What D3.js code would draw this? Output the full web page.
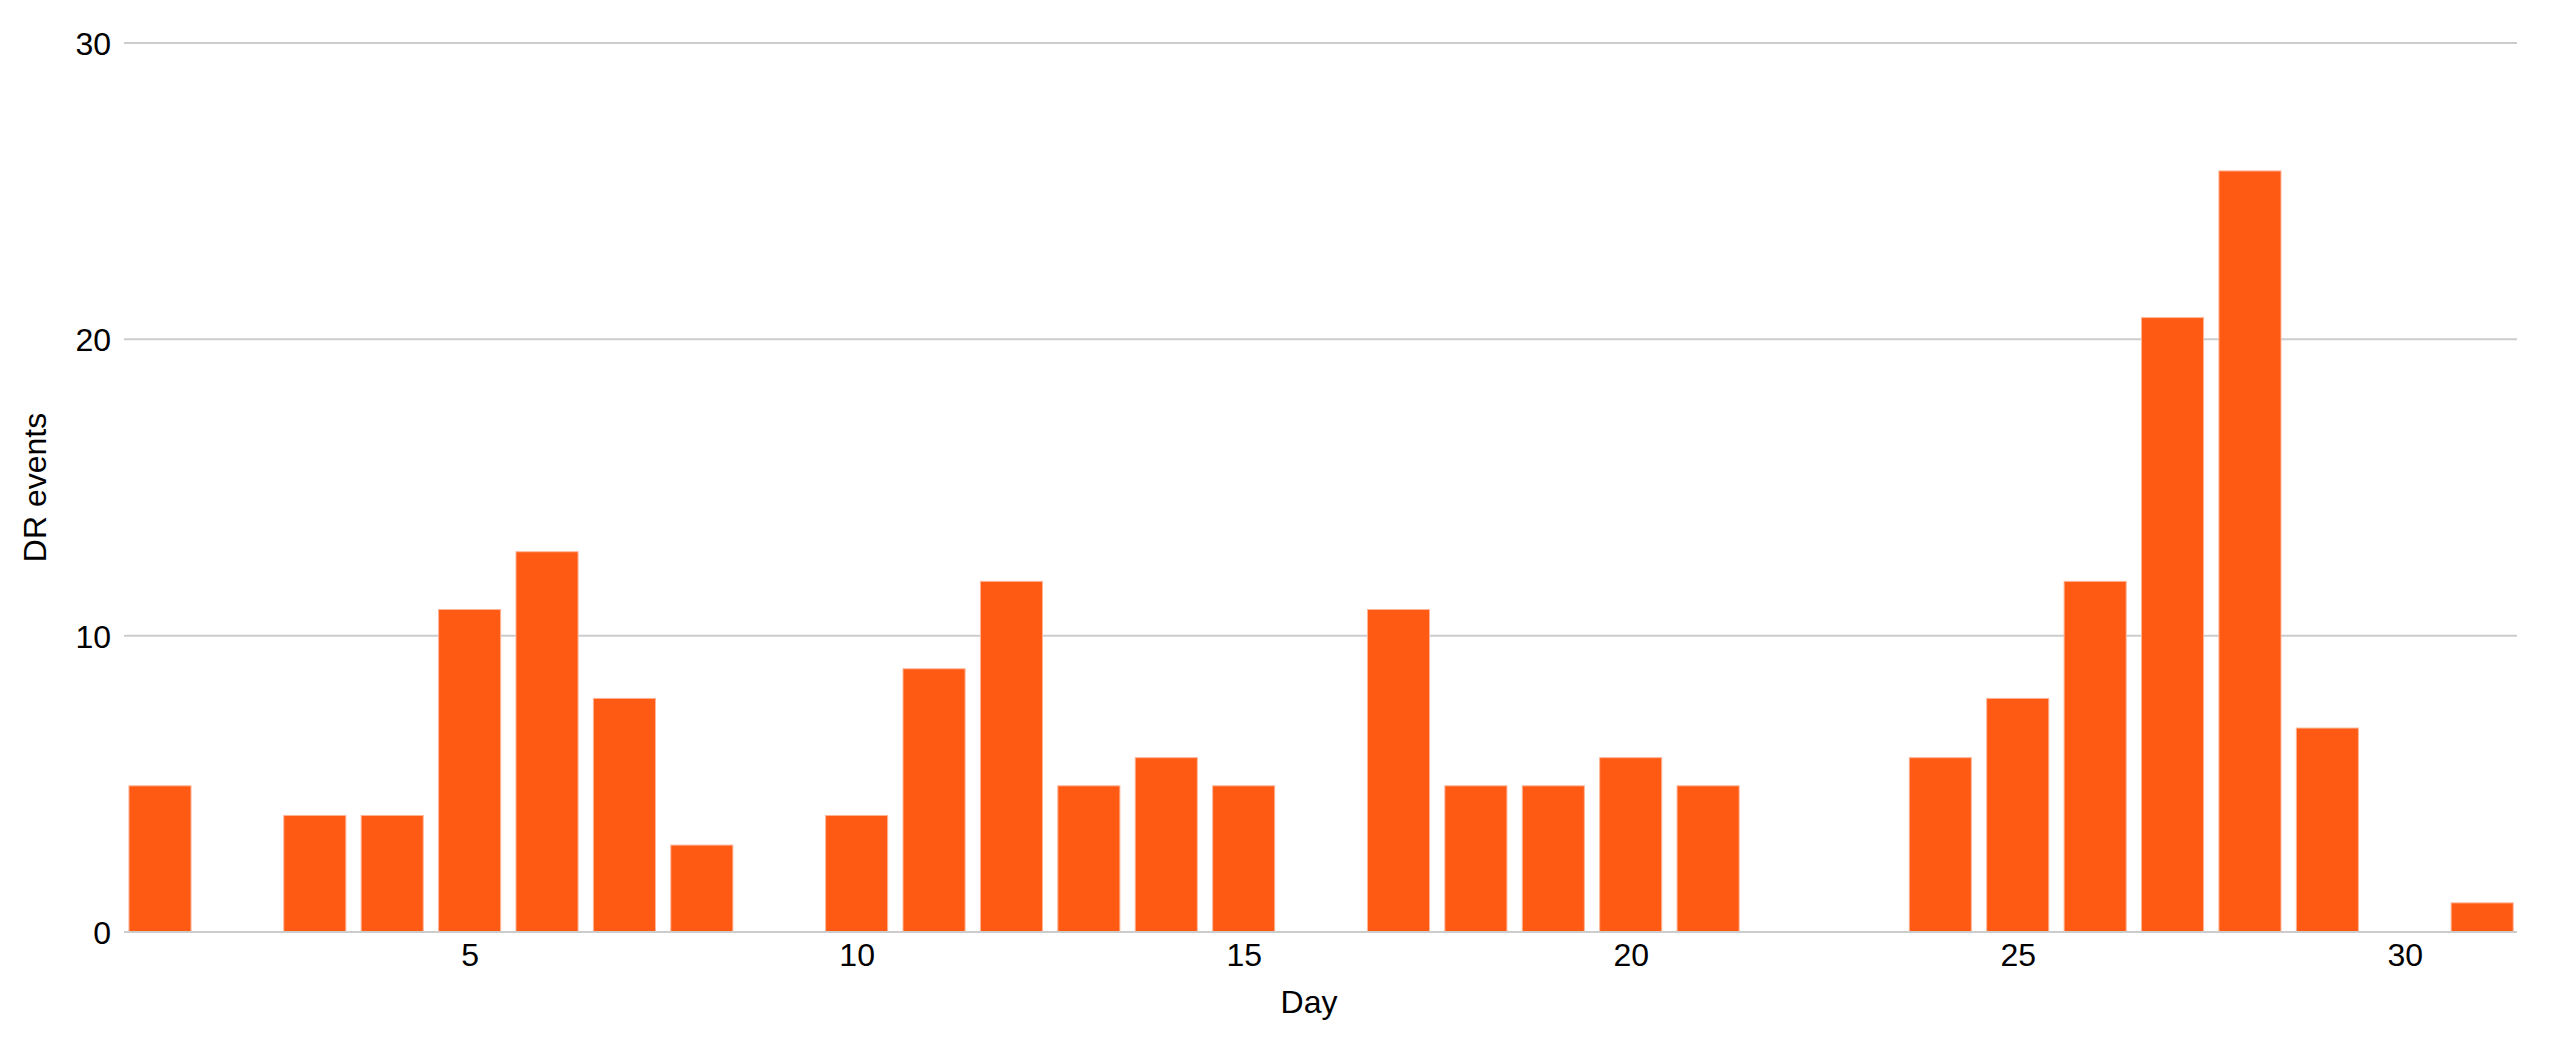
<!DOCTYPE html>
<html>
<head>
<meta charset="utf-8">
<script src="https://cdn.jsdelivr.net/npm/d3@7"></script>
<style>
  body { margin: 0; background: #fff; }
  .chart text { font-family: "Liberation Sans", Arial, sans-serif; fill: #000; }
</style>
</head>
<body>
<div class="chart"></div>
<script>
const days = d3.range(1, 32);
const drEvents = [4.95, 0, 3.95, 3.95, 10.9, 12.85, 7.9, 2.95, 0, 3.95, 8.9, 11.85, 4.95, 5.9, 4.95, 0,
  10.9, 4.95, 4.95, 5.9, 4.95, 0, 0, 5.9, 7.9, 11.85, 20.75, 25.7, 6.9, 0, 1.0];
const xTicks = [5, 10, 15, 20, 25, 30];
const yTicks = [0, 10, 20, 30];

const width = 2550, height = 1042;
const margin = { top: 43, right: 33, bottom: 110, left: 124 };

const svg = d3.select(".chart").append("svg")
  .attr("width", width)
  .attr("height", height);

const x = d3.scaleLinear()
  .domain([0.535, 31.45])
  .range([margin.left, width - margin.right]);

const y = d3.scaleLinear()
  .domain([0, 30])
  .range([height - margin.bottom, margin.top]);

const barW = 0.815; // in days

// gridlines
svg.append("g").selectAll("line").data(yTicks).join("line")
  .attr("x1", margin.left).attr("x2", width - margin.right)
  .attr("y1", d => y(d)).attr("y2", d => y(d))
  .attr("stroke", "#cccccc").attr("stroke-width", 2);

// bars
svg.append("g").selectAll("rect").data(days).join("rect")
  .attr("x", d => x(d - barW / 2) + 0.5)
  .attr("width", x(barW) - x(0) - 1)
  .attr("y", (d, i) => y(drEvents[i]) + 0.5)
  .attr("height", (d, i) => Math.max(0, y(0) - y(drEvents[i]) - 0.5))
  .attr("fill", "#ff5a14")
  .attr("stroke", (d, i) => drEvents[i] > 0 ? "#ffb598" : "none")
  .attr("stroke-width", 1);

// baseline on top
svg.append("line")
  .attr("x1", margin.left).attr("x2", width - margin.right)
  .attr("y1", y(0)).attr("y2", y(0))
  .attr("stroke", "#cccccc").attr("stroke-width", 2);

// y axis labels
const yAxis = svg.append("g")
  .attr("transform", `translate(${margin.left - 13},0)`)
  .call(d3.axisLeft(y).tickValues(yTicks).tickSize(0).tickPadding(0));
yAxis.select(".domain").remove();
yAxis.selectAll("text").attr("font-size", 32).attr("dy", "0.36em");

// x axis labels
const xAxis = svg.append("g")
  .attr("transform", `translate(0,${y(0)})`)
  .call(d3.axisBottom(x).tickValues(xTicks).tickSize(0).tickPadding(11));
xAxis.select(".domain").remove();
xAxis.selectAll("text").attr("font-size", 32).attr("dy", "0.72em");

// titles
svg.append("text")
  .attr("x", 1309).attr("y", 1013)
  .attr("text-anchor", "middle")
  .attr("font-size", 32)
  .text("Day");

svg.append("text")
  .attr("transform", `translate(46,${(y(0) + y(30)) / 2}) rotate(-90)`)
  .attr("text-anchor", "middle")
  .attr("font-size", 32)
  .text("DR events");
</script>
</body>
</html>
